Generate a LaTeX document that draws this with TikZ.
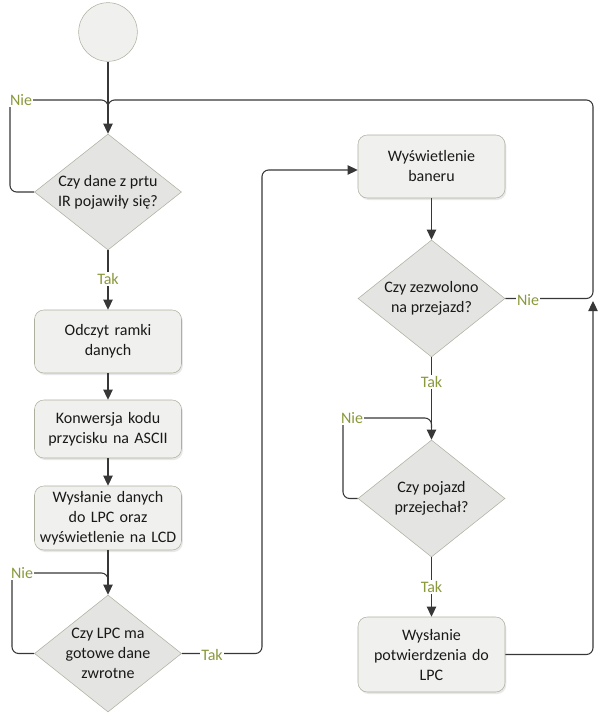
\documentclass[tikz,border=0pt]{standalone}
\usepackage{fontspec}
\setmainfont{Carlito}
\usetikzlibrary{shapes.geometric,arrows.meta,shadows}
\definecolor{lbl}{RGB}{140,152,60}
\definecolor{bord}{RGB}{175,175,160}
\definecolor{boxfill}{RGB}{240,240,238}
\definecolor{diafill}{RGB}{228,228,226}
\definecolor{linec}{RGB}{55,55,55}
\begin{document}
\begin{tikzpicture}[x=0.75pt,y=-0.75pt,
  font=\fontsize{12}{15}\selectfont,
  boxnode/.style={draw=bord,fill=boxfill,rounded corners=7pt,minimum width=110.25pt,
    align=center,text width=108pt,inner sep=0pt,text=black!90,
    drop shadow={opacity=0.18,shadow xshift=1pt,shadow yshift=-1.5pt}},
  dianode/.style={draw=bord,fill=diafill,diamond,minimum width=110.25pt,inner sep=0pt},
  txtnode/.style={align=center,text=black!90,inner sep=0pt},
  conn/.style={draw=linec,line width=0.8pt},
  tipa/.style={-{Triangle[length=7.5pt,width=7pt]}},
  arr/.style={conn,tipa},
  loopc/.style={conn,rounded corners=5pt},
  lab/.style={text=lbl,fill=white,inner sep=1pt}]
\useasboundingbox (0,0) rectangle (600,725);

% nodes
\node[draw=bord,fill=boxfill,circle,minimum size=44pt,inner sep=0pt] (s) at (108,32) {};
\node[dianode,minimum height=87pt] (d1) at (108,192) {};
\node[txtnode] (t1) at (d1) {Czy dane z prtu\\IR pojawiły się?};
\node[boxnode,minimum height=47.25pt] (b1) at (108,341.5) {Odczyt ramki\\danych};
\node[boxnode,minimum height=43.5pt] (b2) at (108,429) {Konwersja kodu\\przycisku na ASCII};
\node[boxnode,minimum height=48pt] (b3) at (108,518) {Wysłanie danych\\do LPC oraz\\wyświetlenie na LCD};
\node[dianode,minimum height=87.75pt] (d4) at (108,653.5) {};
\node[txtnode] (t4) at (d4) {Czy LPC ma\\gotowe dane\\zwrotne};

\node[boxnode,minimum height=47.25pt] (b5) at (431.5,166.5) {Wyświetlenie\\baneru};
\node[dianode,minimum height=87.75pt] (d2) at (431.5,298.5) {};
\node[txtnode] (t2) at (d2) {Czy zezwolono\\na przejazd?};
\node[dianode,minimum height=87.75pt] (d3) at (431.5,498.5) {};
\node[txtnode] (t3) at (d3) {Czy pojazd\\przejechał?};
\node[boxnode,minimum height=56.25pt] (b6) at (431.5,654.5) {Wysłanie\\potwierdzenia do\\LPC};

% helper coordinates
\coordinate (m1) at (108,100);
\coordinate (m4) at (108,573);
\coordinate (m3) at (431.5,418);
\coordinate (up) at (593,301);

% loops (drawn first)
\draw[loopc] (d1.west) -- (10,192) -- (10,100) -- (m1) -- (108,116);
\draw[loopc] (d2.east) -- (593,298.5) -- (593,100) -- (m1) -- (108,116);
\draw[loopc] (d4.west) -- (12,653.5) -- (12,573) -- (m4) -- (108,585);
\draw[loopc] (d3.west) -- (343,498.5) -- (343,418) -- (m3) -- (431.5,428);
\draw[loopc,tipa] (b6.east) -- (593,654.5) -- (up);
\draw[loopc,tipa] (d4.east) -- (262,653.5) -- (262,170) -- (b5.west |- 0,170);

% main arrows
\draw[arr] (s.south) -- (d1.north);
\draw[arr] (d1.south) -- (b1.north);
\draw[arr] (b1.south) -- (b2.north);
\draw[arr] (b2.south) -- (b3.north);
\draw[arr] (b3.south) -- (d4.north);
\draw[arr] (b5.south) -- (d2.north);
\draw[arr] (d2.south) -- (d3.north);
\draw[arr] (d3.south) -- (b6.north);

% labels
\node[lab] (n1) at (21,100) {Nie};
\node[lab] (n2) at (528,300) {Nie};
\node[lab] (n4) at (22,573) {Nie};
\node[lab] (n3) at (352,418) {Nie};
\node[lab] (k1) at (108,279) {Tak};
\node[lab] (k4) at (212,655) {Tak};
\node[lab] (k2) at (431.5,382) {Tak};
\node[lab] (k3) at (431.5,587) {Tak};
\end{tikzpicture}
\end{document}
